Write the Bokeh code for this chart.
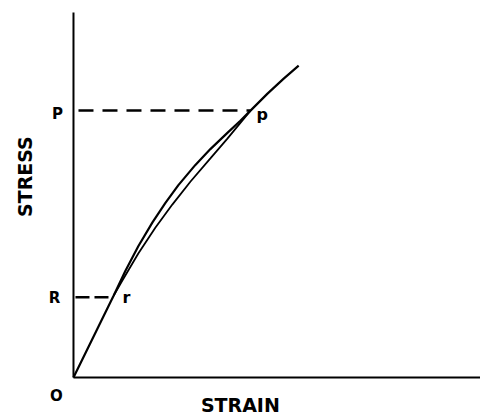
from math import pi
from bokeh.plotting import figure
from bokeh.core.properties import value
from bokeh.embed import file_html
from bokeh.resources import INLINE

# loading curve O -> r -> P -> beyond (strain, stress in arbitrary units)
strain_load = [0.0, 0.99, 1.28, 1.60, 1.95, 2.27, 2.59, 3.01, 3.38, 3.80, 4.12, 4.37, 4.79, 5.19, 5.56]
stress_load = [0.0, 2.02, 2.63, 3.24, 3.83, 4.31, 4.75, 5.25, 5.64, 6.04, 6.34, 6.59, 7.01, 7.38, 7.70]

# unloading line P -> r
strain_unload = [4.37, 3.80, 3.38, 2.89, 2.44, 2.02, 1.60, 1.21, 0.99]
stress_unload = [6.59, 5.90, 5.41, 4.84, 4.27, 3.70, 3.06, 2.40, 2.02]

# marked points
r_strain, R_stress = 0.99, 1.98
p_strain, P_stress = 4.37, 6.59

# axis extents
strain_max, stress_max = 10.05, 9.01

FONT = "DejaVu Sans"

p = figure(width=480, height=415, x_range=(-1.802, 10.049), y_range=(-0.938, 9.309),
           output_backend="svg", toolbar_location=None,
           x_axis_location=None, y_axis_location=None,
           min_border=0)
p.outline_line_color = None
p.grid.visible = False
p.background_fill_color = "white"

# axes (stress and strain zero lines)
p.line([0, 0], [0, stress_max], line_color="black", line_width=2)
p.line([0, strain_max], [0, 0], line_color="black", line_width=2)

# dashed guide lines
p.line([0, p_strain], [P_stress, P_stress], line_color="black",
       line_width=2.5, line_dash="15 9", line_dash_offset=19)
p.line([0, r_strain], [R_stress, R_stress], line_color="black",
       line_width=2.5, line_dash="14 5", line_dash_offset=17)

# curves
p.line(strain_load, stress_load, line_color="black", line_width=2.2)
p.line(strain_unload, stress_unload, line_color="black", line_width=1.8)

bold = dict(text_font=value(FONT), text_font_style="bold", text_color="black",
            text_baseline="middle")

# axis marks R, P, O
p.text(x=[0, 0, 0], y=[R_stress, P_stress, 0], text=["R", "P", "O"],
       x_offset=[-19, -16, -17], y_offset=[1, 3, 18],
       text_align="center", text_font_size="15px", **bold)

# point labels r, p
p.text(x=[r_strain, p_strain], y=[R_stress, P_stress], text=["r", "p"],
       x_offset=[9, 6], y_offset=[0, 4],
       text_align="left", text_font_size="16px", **bold)

# axis titles
p.text(x=[4.12], y=[0], text=["STRAIN"], y_offset=[27],
       text_align="center", text_font_size="19px", **bold)
p.text(x=[0], y=[4.96], text=["STRESS"], x_offset=[-48], angle=pi / 2,
       text_align="center", text_font_size="19px", **bold)

open("out.html", "w").write(file_html(p, INLINE))
